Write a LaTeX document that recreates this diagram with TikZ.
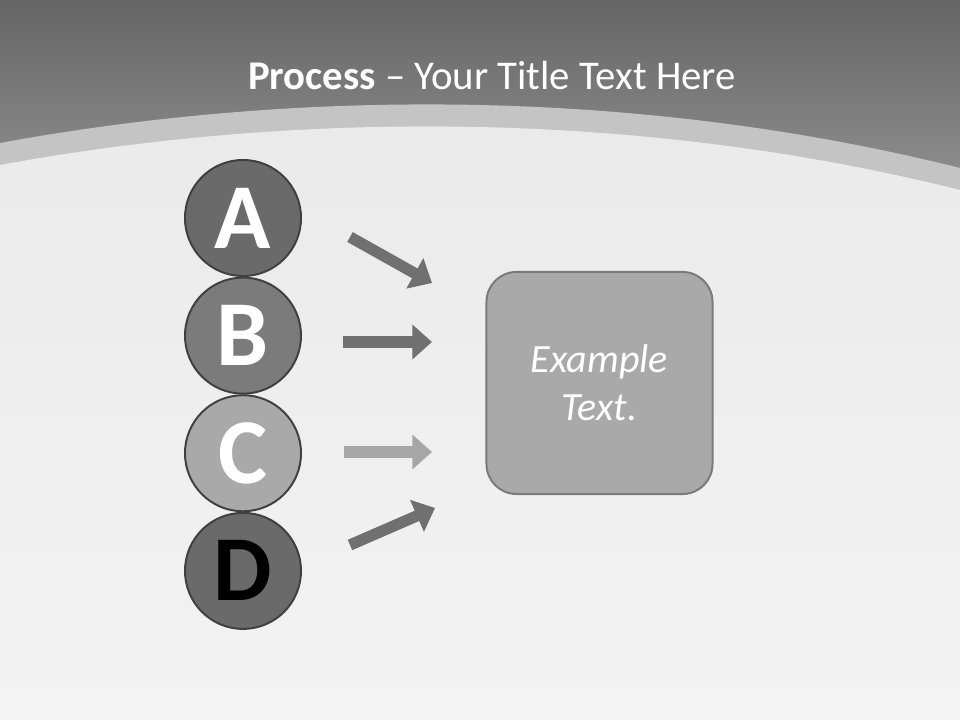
\documentclass[tikz,border=0pt]{standalone}
\usepackage{fontspec}
\setmainfont{Carlito}
\usetikzlibrary{arrows.meta}
\definecolor{bandtop}{HTML}{656565}
\definecolor{bandlow}{HTML}{929292}
\definecolor{silver}{HTML}{C4C4C4}
\definecolor{papertop}{HTML}{EAEAEA}
\definecolor{paperlow}{HTML}{F3F3F3}
\definecolor{ringedge}{HTML}{404040}
\definecolor{darkfill}{HTML}{6A6A6A}
\definecolor{midfill}{HTML}{7B7B7B}
\definecolor{lightfill}{HTML}{A9A9A9}
\definecolor{arrowdark}{HTML}{707070}
\definecolor{arrowlight}{HTML}{A6A6A6}
\definecolor{boxedge}{HTML}{7A7A7A}
\tikzstyle{letter} = [
    circle,
    minimum size=2.9cm,
    inner sep=0pt,
    draw=ringedge,
    line width=1.4pt,
    text=white,
    font=\bfseries\fontsize{66}{66}\selectfont
]
\tikzstyle{textbox} = [
    rectangle,
    rounded corners=0.75cm,
    minimum width=5.65cm,
    minimum height=5.55cm,
    fill=lightfill,
    draw=boxedge,
    line width=1.4pt,
    text=white,
    align=center,
    font=\itshape\fontsize{28.5}{34}\selectfont
]
\tikzstyle{arrow} = [line width=8pt, -{Triangle[length=14pt,width=24pt]}]

\begin{document}
\begin{tikzpicture}[x=0.025cm, y=-0.025cm, node distance=2.94cm]
\useasboundingbox (0,0) rectangle (960,720);

% background
\shade[top color=bandtop, bottom color=bandlow] (0,0) rectangle (960,200);
\fill[silver] (0,143) .. controls (300,88) and (640,88) .. (960,168)
    -- (960,720) -- (0,720) -- cycle;
\shade[top color=papertop, bottom color=paperlow]
    (0,165) .. controls (300,110) and (640,110) .. (960,190)
    -- (960,720) -- (0,720) -- cycle;

\node (title) [text=white, font=\fontsize{29}{29}\selectfont] at (492,75)
{\textbf{Process} -- Your Title Text Here};

\node (A) [letter, fill=darkfill] at (243,218) {A};
\node (B) [letter, fill=midfill, below of=A] {B};
\node (C) [letter, fill=lightfill, below of=B] {C};
\node (D) [letter, fill=darkfill, text=black, below of=C] {D};

\node (box) [textbox] at (599.5,383) {Example\\Text.};

\coordinate (atail) at (350,237);
\coordinate (ahead) at (432,283);
\coordinate (btail) at (343,342);
\coordinate (bhead) at (432,342);
\coordinate (ctail) at (344,452);
\coordinate (chead) at (432,452);
\coordinate (dtail) at (350,545);
\coordinate (dhead) at (435,508);

\draw [arrow, arrowdark] (atail) -- (ahead);
\draw [arrow, arrowdark] (btail) -- (bhead);
\draw [arrow, arrowlight] (ctail) -- (chead);
\draw [arrow, arrowdark] (dtail) -- (dhead);

\end{tikzpicture}
\end{document}
